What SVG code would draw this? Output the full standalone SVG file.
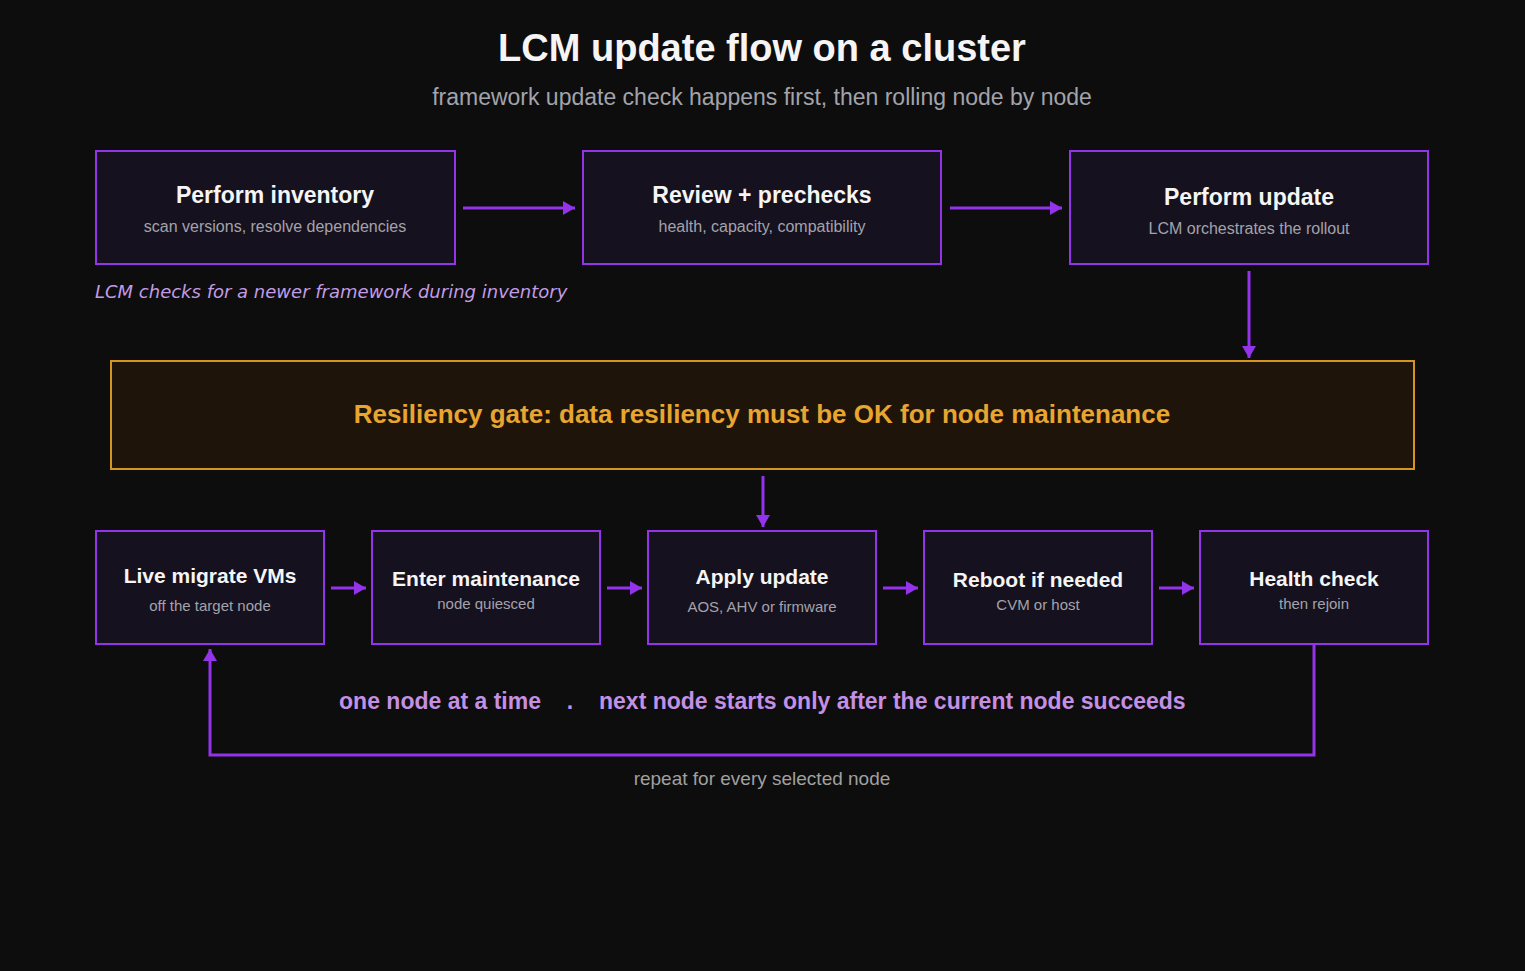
<svg xmlns="http://www.w3.org/2000/svg" width="1525" height="971" viewBox="0 0 1525 971">
<defs>
<style>
.bg{fill:#0d0d0d}
.box{fill:#16111e;stroke:#9333ea;stroke-width:2}
.gate{fill:#1e140a;stroke:#d4961e;stroke-width:2}
.t{font-family:"Liberation Sans",Arial,sans-serif;text-anchor:middle}
.title{font-weight:bold;font-size:38px;fill:#f5f5f5}
.sub{font-size:23px;fill:#a3a3ab}
.nt{font-weight:bold;font-size:23px;fill:#f5f5f5}
.ns{font-size:16px;fill:#a3a3ab}
.bt{font-weight:bold;font-size:21px;fill:#f5f5f5}
.bs{font-size:15px;fill:#a3a3ab}
.gt{font-weight:bold;font-size:26px;fill:#e8a530}
.note{font-family:"DejaVu Sans",sans-serif;font-style:italic;font-size:18px;fill:#c39be6}
.loop{font-weight:bold;font-size:23px;fill:#c490e4}
.rep{font-size:19px;fill:#a0a0a0}
.c{fill:none;stroke:#9333ea;stroke-width:3}
</style>
<marker id="ah" markerUnits="userSpaceOnUse" viewBox="0 0 12 14" refX="12" refY="7" markerWidth="12" markerHeight="14" orient="auto">
<path d="M0,0 L12,7 L0,14 z" fill="#9333ea"/>
</marker>
</defs>
<rect class="bg" x="0" y="0" width="1525" height="971"/>
<text class="t title" x="762" y="61">LCM update flow on a cluster</text>
<text class="t sub" x="762" y="105">framework update check happens first, then rolling node by node</text>

<g id="inventory">
<rect class="box" x="96" y="151" width="359" height="113"/>
<text class="t nt" x="275" y="203">Perform inventory</text>
<text class="t ns" x="275" y="232">scan versions, resolve dependencies</text>
</g>
<g id="review">
<rect class="box" x="583" y="151" width="358" height="113"/>
<text class="t nt" x="762" y="203">Review + prechecks</text>
<text class="t ns" x="762" y="232">health, capacity, compatibility</text>
</g>
<g id="update">
<rect class="box" x="1070" y="151" width="358" height="113"/>
<text class="t nt" x="1249" y="205">Perform update</text>
<text class="t ns" x="1249" y="234">LCM orchestrates the rollout</text>
</g>
<text class="note" x="95" y="298">LCM checks for a newer framework during inventory</text>

<g id="gate">
<rect class="gate" x="111" y="361" width="1303" height="108"/>
<text class="t gt" x="762" y="423">Resiliency gate: data resiliency must be OK for node maintenance</text>
</g>

<g id="migrate">
<rect class="box" x="96" y="531" width="228" height="113"/>
<text class="t bt" x="210" y="583">Live migrate VMs</text>
<text class="t bs" x="210" y="611">off the target node</text>
</g>
<g id="maintenance">
<rect class="box" x="372" y="531" width="228" height="113"/>
<text class="t bt" x="486" y="586">Enter maintenance</text>
<text class="t bs" x="486" y="609">node quiesced</text>
</g>
<g id="apply">
<rect class="box" x="648" y="531" width="228" height="113"/>
<text class="t bt" x="762" y="584">Apply update</text>
<text class="t bs" x="762" y="612">AOS, AHV or firmware</text>
</g>
<g id="reboot">
<rect class="box" x="924" y="531" width="228" height="113"/>
<text class="t bt" x="1038" y="587">Reboot if needed</text>
<text class="t bs" x="1038" y="610">CVM or host</text>
</g>
<g id="health">
<rect class="box" x="1200" y="531" width="228" height="113"/>
<text class="t bt" x="1314" y="586">Health check</text>
<text class="t bs" x="1314" y="609">then rejoin</text>
</g>

<g id="connectors">
<line class="c" x1="463" y1="208" x2="575" y2="208" marker-end="url(#ah)"/>
<line class="c" x1="950" y1="208" x2="1062" y2="208" marker-end="url(#ah)"/>
<line class="c" x1="1249" y1="271" x2="1249" y2="358" marker-end="url(#ah)"/>
<line class="c" x1="763" y1="476" x2="763" y2="527" marker-end="url(#ah)"/>
<line class="c" x1="331" y1="588" x2="366" y2="588" marker-end="url(#ah)"/>
<line class="c" x1="607" y1="588" x2="642" y2="588" marker-end="url(#ah)"/>
<line class="c" x1="883" y1="588" x2="918" y2="588" marker-end="url(#ah)"/>
<line class="c" x1="1159" y1="588" x2="1194" y2="588" marker-end="url(#ah)"/>
<path class="c" d="M1314,645 V755 H210 V649" marker-end="url(#ah)"/>
</g>

<text class="t loop" x="541" y="709" style="text-anchor:end">one node at a time</text>
<text class="t loop" x="570" y="709">.</text>
<text class="t loop" x="599" y="709" style="text-anchor:start">next node starts only after the current node succeeds</text>
<text class="t rep" x="762" y="785">repeat for every selected node</text>
</svg>
